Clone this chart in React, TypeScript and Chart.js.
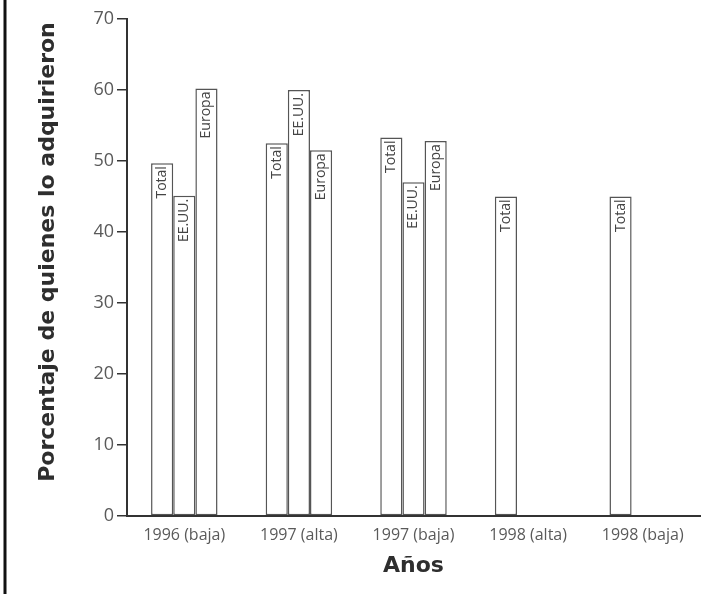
import React, { useEffect, useRef } from "react";
import { Chart, registerables } from "chart.js";

Chart.register(...registerables);

const categories = ["1996 (baja)", "1997 (alta)", "1997 (baja)", "1998 (alta)", "1998 (baja)"];
const seriesNames = ["Total", "EE.UU.", "Europa"];
const totalValues = [49.7, 52.5, 53.3, 45, 45];
const usaValues = [45.1, 60, 47, null, null];
const europeValues = [60.2, 51.5, 52.8, null, null];
const yTicks = [0, 10, 20, 30, 40, 50, 60, 70];
const yTitle = "Porcentaje de quienes lo adquirieron";
const xTitle = "Años";

const decorPlugin = {
  id: "decor",
  afterDatasetsDraw(chart: any) {
    const ctx = chart.ctx;
    ctx.save();
    ctx.fillStyle = "#444";
    ctx.font = "14px 'Open Sans'";
    ctx.textAlign = "right";
    ctx.textBaseline = "middle";
    chart.data.datasets.forEach((ds: any, di: number) => {
      const meta = chart.getDatasetMeta(di);
      meta.data.forEach((bar: any, i: number) => {
        const v = ds.data[i];
        if (v === null || v === undefined) return;
        ctx.save();
        ctx.translate(bar.x, bar.y + 3);
        ctx.rotate(-Math.PI / 2);
        ctx.fillText(ds.label, 0, 0);
        ctx.restore();
      });
    });
    ctx.restore();
  },
  afterDraw(chart: any) {
    const ctx = chart.ctx;
    const area = chart.chartArea;
    ctx.save();
    ctx.strokeStyle = "#111";
    ctx.lineWidth = 3;
    ctx.beginPath();
    ctx.moveTo(5, 0);
    ctx.lineTo(5, chart.height);
    ctx.stroke();
    ctx.fillStyle = "#2e2e2e";
    ctx.font = "bold 22px 'DejaVu Sans'";
    ctx.textAlign = "center";
    ctx.textBaseline = "middle";
    ctx.save();
    ctx.translate(48, 252);
    ctx.rotate(-Math.PI / 2);
    ctx.fillText(yTitle, 0, 0);
    ctx.restore();
    ctx.font = "bold 22px 'DejaVu Sans'";
    ctx.fillText(xTitle, (area.left + area.right) / 2, 566);
    ctx.restore();
  },
};

export default function App() {
  const ref = useRef<HTMLCanvasElement>(null);
  useEffect(() => {
    if (!ref.current) return;
    const barStyle = {
      backgroundColor: "#ffffff",
      borderColor: "#555",
      borderWidth: 1.5,
      borderSkipped: false,
      categoryPercentage: 0.58,
      barPercentage: 1,
    };
    const chart = new Chart(ref.current, {
      type: "bar",
      data: {
        labels: categories,
        datasets: [
          { label: seriesNames[0], data: totalValues, ...barStyle },
          { label: seriesNames[1], data: usaValues, ...barStyle },
          { label: seriesNames[2], data: europeValues, ...barStyle },
        ],
      },
      options: {
        responsive: false,
        animation: false,
        layout: { padding: { left: 0, right: 10, top: 19, bottom: 0 } },
        plugins: { legend: { display: false }, tooltip: { enabled: false } },
        scales: {
          x: {
            grid: { display: false },
            border: { display: true, color: "#333", width: 2 },
            ticks: { color: "#5a5a5a", font: { family: "'Open Sans'", size: 16 }, padding: 2 },
            afterFit: (s: any) => { s.height = 78; },
          },
          y: {
            min: 0,
            max: 70,
            afterBuildTicks: (s: any) => { s.ticks = yTicks.map((v) => ({ value: v })); },
            grid: { display: true, drawOnChartArea: false, drawTicks: true, tickLength: 10, color: "#333", lineWidth: 1.5 },
            border: { display: true, color: "#333", width: 2 },
            ticks: { color: "#5a5a5a", font: { family: "'Open Sans'", size: 18 }, padding: 3 },
            afterFit: (s: any) => { s.width = 127; },
          },
        },
      },
      plugins: [decorPlugin],
    });
    return () => chart.destroy();
  }, []);
  return (
    <div style={{ position: "fixed", left: 0, top: 0, width: 710, height: 594, background: "#fff" }}>
      <canvas ref={ref} width={710} height={594} style={{ width: 710, height: 594 }} />
    </div>
  );
}
